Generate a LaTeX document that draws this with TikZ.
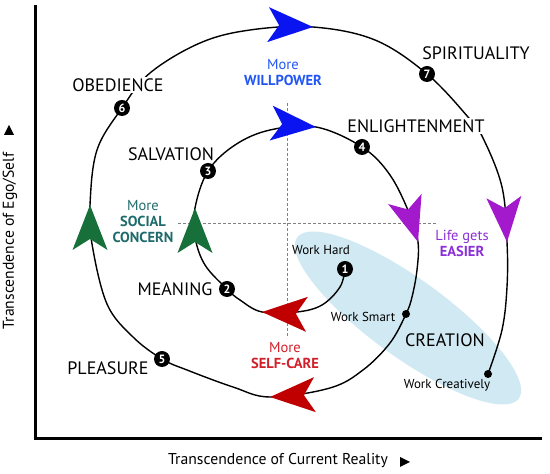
\documentclass[tikz,border=0pt]{standalone}
\usepackage{fontspec}
\setmainfont{PT Sans}
\definecolor{headRed}{HTML}{C00000}
\definecolor{headGreen}{HTML}{17703A}
\definecolor{headBlue}{HTML}{0A14F0}
\definecolor{headPurple}{HTML}{A21ACB}
\definecolor{careRed}{HTML}{D2202A}
\definecolor{socialTeal}{HTML}{1F6B6B}
\definecolor{willBlue}{HTML}{2156F5}
\definecolor{easyPurple}{HTML}{8B2FD6}
\definecolor{creationBlue}{HTML}{D0E9F2}
\begin{document}
\begin{tikzpicture}[x=1pt,y=1pt,
    stage/.style={font=\fontsize{18}{20}\selectfont},
    work/.style={font=\fontsize{13}{15}\selectfont},
    push/.style={align=center,font=\fontsize{14.5}{16}\selectfont},
    axislabel/.style={font=\fontsize{15.7}{18}\selectfont},
    milestone/.style={circle,fill=black,text=white,inner sep=0pt,
        minimum size=16pt,font=\fontsize{12}{12}\selectfont\bfseries},
    waypoint/.style={circle,fill=black,inner sep=0pt,minimum size=8pt},
    wayhead/.pic={\fill (0,0) -- (-45,17.5) -- (-34,0) -- (-45,-17.5) -- cycle;}]
    \useasboundingbox (0,0) rectangle (550,474);
    %% Creation zone
    \fill[creationBlue,rotate around={-36:(408,156)}] (408,156) ellipse (137 and 39);
    %% Crosshair
    \draw[gray,densely dashed,line width=0.6pt] (287,371) -- (287,136);
    \draw[gray,densely dashed,line width=0.6pt] (178,251) -- (438,251);
    %% Axes
    \draw[line width=3pt] (35,469) |- (542,35);
    \node[axislabel,rotate=90] (egoAxis) at (10,233) {Transcendence of Ego/Self};
    \node[axislabel] (realityAxis) at (278,13) {Transcendence of Current Reality};
    \fill (4,339) -- (14,339) -- (9,349) -- cycle;
    \fill (400,7) -- (400,17) -- (410,12) -- cycle;
    %% Milestones
    \coordinate (p1) at (345,205);
    \coordinate (p2) at (227,185);
    \coordinate (p3) at (208,303);
    \coordinate (p4) at (362,327);
    \coordinate (p5) at (162,115);
    \coordinate (p6) at (122,366);
    \coordinate (p7) at (427,400);
    \coordinate (smart) at (406,160);
    \coordinate (creative) at (488,100);
    %% Arrow tips
    \coordinate (redIn) at (262,162);
    \coordinate (greenIn) at (195,266);
    \coordinate (blueIn) at (316,347);
    \coordinate (purpleIn) at (418,232);
    \coordinate (redOut) at (270,77);
    \coordinate (greenOut) at (90,269);
    \coordinate (blueOut) at (313,447);
    \coordinate (purpleOut) at (507,232);
    %% Spiral
    \draw[line width=1.4pt] plot[smooth,tension=0.6] coordinates {
        (p1) (340,187) (322,169) (297,162) (redIn) (240,174) (p2)
        (205,209) (195,237) (greenIn) (p3) (235,329) (270,344) (blueIn)
        (p4) (390,299) (410,259) (purpleIn) (417,204) (412,177) (smart)
        (390,131) (363,104) (330,86) (redOut) (233,87) (187,104) (p5)
        (133,137) (107,170) (92,230) (greenOut) (97,324) (p6) (150,401)
        (200,431) (250,444) (blueOut) (375,434) (p7) (468,357) (483,336)
        (502,287) (purpleOut) (507,187) (502,144) (creative)};
    \pic[headRed,rotate=177] at (redIn) {wayhead};
    \pic[headGreen,rotate=90] at (greenIn) {wayhead};
    \pic[headBlue,rotate=-5] at (blueIn) {wayhead};
    \pic[headPurple,rotate=-73] at (purpleIn) {wayhead};
    \pic[headRed,rotate=183] at (redOut) {wayhead};
    \pic[headGreen,rotate=90] at (greenOut) {wayhead};
    \pic[headBlue,rotate=-3] at (blueOut) {wayhead};
    \pic[headPurple,rotate=-86] at (purpleOut) {wayhead};
    %% Stages
    \node[stage] (meaning) at (175,185) {MEANING};
    \node[stage] (salvation) at (171,320) {SALVATION};
    \node[stage,fill=white,inner sep=1pt] (enlightenment) at (416,348) {ENLIGHTENMENT};
    \node[stage] (pleasure) at (108,106) {PLEASURE};
    \node[stage,fill=white,inner sep=1pt] (obedience) at (118,389) {OBEDIENCE};
    \node[stage] (spirituality) at (476,421) {SPIRITUALITY};
    \node[stage] (creation) at (445,134) {CREATION};
    \node[work] (workHard) at (321,224) {Work Hard};
    \node[work] (workSmart) at (363,157) {Work Smart};
    \node[work] (workCreative) at (447,89) {Work Creatively};
    %% Directions
    \node[push,text=socialTeal] (social) at (143,252) {More\\\textbf{SOCIAL}\\\textbf{CONCERN}};
    \node[push,text=willBlue] (willpower) at (283,401) {More\\\textbf{WILLPOWER}};
    \node[push,text=easyPurple] (easier) at (462,231) {Life gets\\\textbf{EASIER}};
    \node[push,text=careRed] (selfCare) at (285,118) {More\\\textbf{SELF-CARE}};
    %% Numbered points
    \node[milestone] (m1) at (p1) {1};
    \node[milestone] (m2) at (p2) {2};
    \node[milestone] (m3) at (p3) {3};
    \node[milestone] (m4) at (p4) {4};
    \node[milestone] (m5) at (p5) {5};
    \node[milestone] (m6) at (p6) {6};
    \node[milestone] (m7) at (p7) {7};
    \node[waypoint] (smartDot) at (smart) {};
    \node[waypoint] (creativeDot) at (creative) {};
\end{tikzpicture}
\end{document}
